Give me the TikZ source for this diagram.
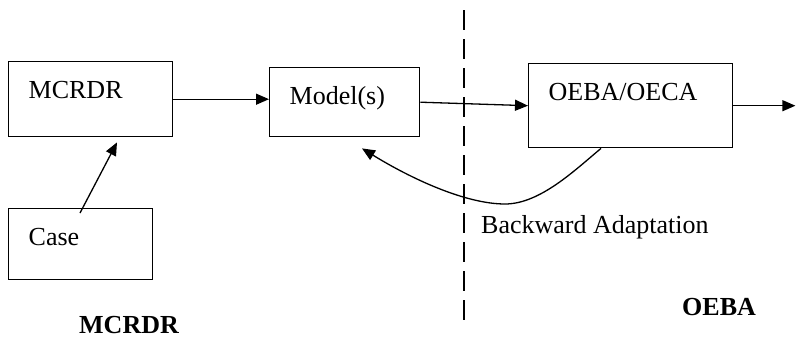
\documentclass[tikz,border=0pt]{standalone}
\usepackage{fontspec}
\setmainfont{Liberation Serif}
\usetikzlibrary{arrows.meta,positioning}

\begin{document}
\begin{tikzpicture}[x=1pt,y=-1pt,
  block/.style={rectangle,draw,line width=1.4pt,anchor=north west,align=left,
                font=\fontsize{26}{30}\selectfont,inner xsep=20pt,inner ysep=19pt,
                text height=18pt},
  lab/.style={font=\fontsize{26}{30}\selectfont,inner sep=0pt,anchor=base west},
  link/.style={-{Triangle[length=13pt,width=11pt]},line width=1.3pt}]
\useasboundingbox (0,0) rectangle (796,340);
\node[block,text width=124pt,text depth=19pt] (mcrdr) at (8,61)   {MCRDR};
\node[block,text width=110pt,text depth=13pt] (model) at (269,67) {Model(s)};
\node[block,text width=164pt,text depth=28pt] (oeba)  at (528,63) {OEBA/OECA};
\node[block,text width=104pt,text depth=15pt] (case)  at (8,208)  {Case};
\node[lab] (back) at (481,233) {Backward Adaptation};
\node[lab] (oebalab)  at (682,315) {\bfseries OEBA};
\node[lab] (mcrdrlab) at (79,333)  {\bfseries MCRDR};
% border between the two sides
\coordinate (top) at (464,10);
\coordinate (bot) at (464,323);
\draw[line width=1.8pt,dash pattern=on 20pt off 9pt] (top) -- (bot);
% flow
\coordinate (out) at ([xshift=62pt]oeba.east);
\draw[link] ([xshift=72pt,yshift=-5pt]case.north west) -- ([xshift=109pt,yshift=-5pt]mcrdr.south west);
\draw[link] (mcrdr.east) -- (mcrdr.east -| model.west);
\draw[link] (model.east) -- (oeba.west);
\draw[link] (oeba.east) -- (out);
\draw[link] ([xshift=73pt]oeba.south west) .. controls (575,170) and (540,204) .. (505,204)
  .. controls (465,204) and (410,178) .. ([xshift=93pt,yshift=-11pt]model.south west);
\end{tikzpicture}
\end{document}
